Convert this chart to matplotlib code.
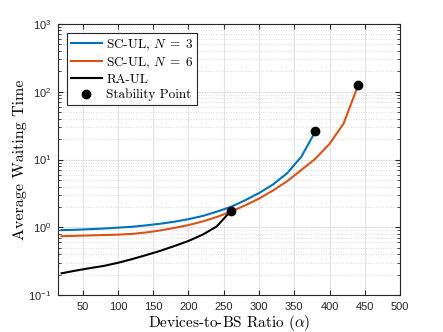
import matplotlib
matplotlib.use("Agg")
import matplotlib.pyplot as plt
from matplotlib.ticker import LogLocator, NullFormatter

# data
alpha_sc3 = [20, 40, 60, 80, 100, 120, 140, 160, 180, 200, 220, 240, 260, 280, 300, 320, 340, 360, 380]
wait_sc3 = [0.91, 0.92, 0.94, 0.96, 0.99, 1.02, 1.07, 1.13, 1.21, 1.32, 1.47, 1.7, 2.0, 2.5, 3.2, 4.3, 6.3, 11.0, 26.0]

alpha_sc6 = [20, 40, 60, 80, 100, 120, 140, 160, 180, 200, 220, 240, 260, 280, 300, 320, 340, 360, 380, 400, 420, 440]
wait_sc6 = [0.74, 0.75, 0.76, 0.77, 0.78, 0.80, 0.84, 0.90, 0.98, 1.08, 1.22, 1.42, 1.7, 2.1, 2.65, 3.5, 4.8, 7.0, 10.3, 17.0, 34.0, 120.0]

alpha_ra = [20, 40, 60, 80, 100, 120, 140, 160, 180, 200, 220, 240, 260]
wait_ra = [0.21, 0.23, 0.25, 0.27, 0.30, 0.34, 0.39, 0.45, 0.53, 0.63, 0.78, 1.03, 1.74]

stab_x = [260, 380, 440]
stab_y = [1.74, 26.0, 124.0]

plt.rcParams["mathtext.fontset"] = "cm"
plt.rcParams["font.family"] = ["Liberation Sans", "DejaVu Sans"]

fig = plt.figure(figsize=(4.43, 3.32), dpi=100)
ax = fig.add_axes([0.131, 0.111, 0.772, 0.817])

ax.plot(alpha_sc3, wait_sc3, color="#0072BD", lw=1.5, label=r"SC-UL, $N\;=\;3$")
ax.plot(alpha_sc6, wait_sc6, color="#D95319", lw=1.5, label=r"SC-UL, $N\;=\;6$")
ax.plot(alpha_ra, wait_ra, color="black", lw=1.5, label="RA-UL")
ax.plot(stab_x, stab_y, "o", color="black", ms=6, ls="none", label="Stability Point")

ax.set_yscale("log")
ax.set_xlim(15, 500)
ax.set_ylim(0.1, 1000)
ax.set_xticks(range(50, 501, 50))
ax.yaxis.set_major_locator(LogLocator(base=10, numticks=10))
ax.yaxis.set_minor_locator(LogLocator(base=10, subs=range(2, 10), numticks=10))
ax.yaxis.set_minor_formatter(NullFormatter())

ax.grid(True, which="major", color="#e3e3e3", lw=0.8)
ax.grid(True, which="minor", axis="y", color="#d0d0d0", lw=0.6, ls=(0, (1, 2)))
ax.set_axisbelow(True)

ax.tick_params(which="both", direction="in", top=True, right=True, colors="#262626",
               labelsize=8, labelcolor="#262626")
ax.tick_params(which="major", length=3.5, pad=5)
ax.tick_params(which="minor", length=2)
for sp in ax.spines.values():
    sp.set_color("#262626")
    sp.set_linewidth(0.8)

ax.set_xlabel(r"Devices-to-BS Ratio ($\alpha$)", family="cmr10", fontsize=11, labelpad=1)
ax.set_ylabel("Average Waiting Time", family="cmr10", fontsize=11.5, labelpad=1)

for tl in ax.get_yticklabels():
    tl.set_math_fontfamily("dejavusans")

leg = ax.legend(loc="upper left", bbox_to_anchor=(0.025, 0.965), fancybox=False,
                edgecolor="#262626", framealpha=1, handlelength=2.35, handletextpad=0.35,
                borderpad=0.3, labelspacing=0.22, borderaxespad=0,
                prop={"family": "cmr10", "size": 9.5})
leg.get_frame().set_linewidth(0.8)

fig.savefig("out.png", dpi=100)
